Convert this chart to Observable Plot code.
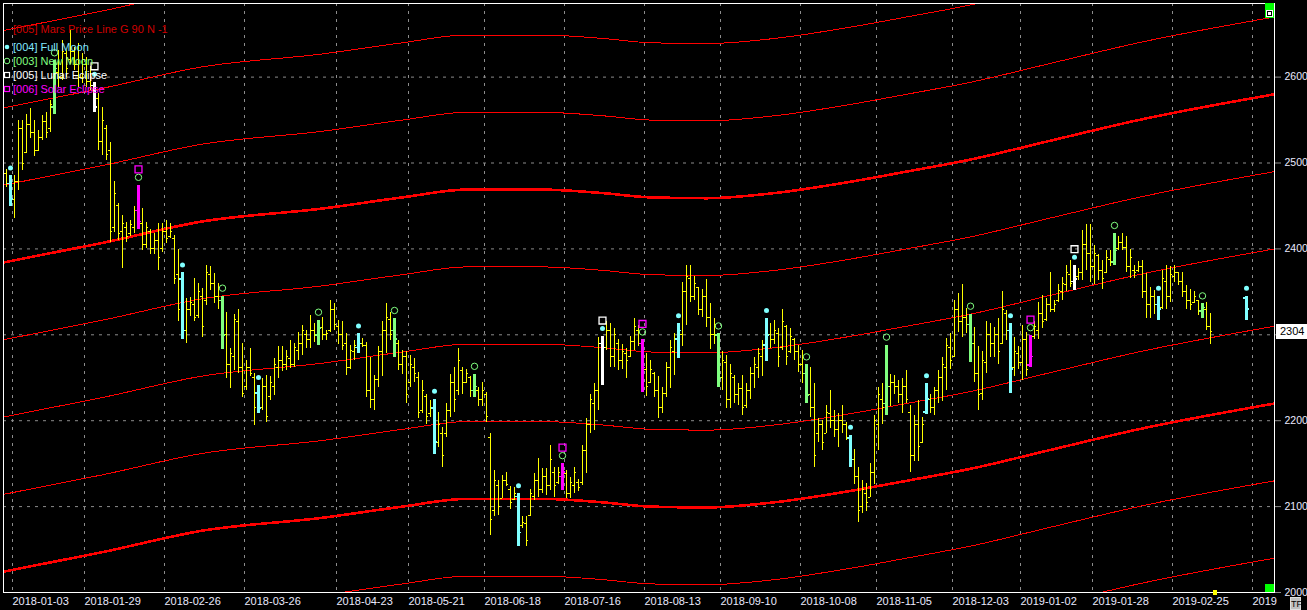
<!DOCTYPE html>
<html><head><meta charset="utf-8">
<script src="https://cdn.jsdelivr.net/npm/d3@7"></script>
<script src="https://cdn.jsdelivr.net/npm/@observablehq/plot@0.6"></script>
<style>
html,body{margin:0;padding:0;background:#000;}
#wrap{position:relative;width:1307px;height:610px;overflow:hidden;background:#000;font-family:'Liberation Sans',Arial,sans-serif;}
.ui{position:absolute;box-sizing:border-box;}
</style></head><body>
<div id="wrap"></div>
<script>
// ---- price bars (bar index 0..302) ----
const high = [2492,2492,2485,2486,2550,2550,2557,2563,2550,2538,
 2555,2559,2573,2619,2631,2643,2631,2654,2635,2639,
 2627,2623,2612,2594,2581,2565,2544,2524,2478,2453,
 2439,2431,2433,2449,2474,2447,2431,2423,2418,2429,
 2429,2433,2429,2416,2399,2372,2342,2344,2365,2360,
 2354,2381,2379,2371,2360,2345,2326,2284,2324,2330,
 2290,2270,2284,2255,2241,2249,2253,2251,2272,2286,
 2286,2282,2293,2290,2303,2311,2305,2323,2313,2317,
 2320,2305,2340,2336,2317,2315,2301,2287,2293,2301,
 2296,2291,2274,2253,2286,2315,2336,2326,2319,2293,
 2282,2280,2276,2272,2256,2247,2231,2223,2225,2210,
 2192,2220,2254,2262,2284,2262,2260,2251,2254,2239,
 2244,2233,2185,2142,2130,2136,2140,2123,2122,2115,
 2088,2088,2120,2138,2156,2144,2144,2171,2146,2146,
 2150,2142,2134,2146,2132,2171,2202,2231,2243,2297,
 2298,2315,2313,2307,2294,2289,2284,2298,2319,2311,
 2294,2278,2270,2256,2251,2239,2268,2293,2301,2313,
 2361,2381,2381,2368,2355,2353,2364,2336,2319,2301,
 2280,2276,2266,2253,2243,2253,2243,2262,2274,2284,
 2293,2319,2313,2317,2307,2329,2311,2307,2296,2288,
 2282,2265,2262,2243,2202,2200,2218,2235,2212,2208,
 2218,2198,2183,2167,2146,2130,2127,2150,2206,2239,
 2243,2288,2254,2253,2247,2249,2258,2218,2206,2224,
 2204,2243,2231,2239,2258,2274,2296,2301,2340,2348,
 2359,2331,2324,2309,2286,2280,2315,2313,2309,2319,
 2350,2328,2313,2297,2286,2311,2303,2299,2315,2338,
 2346,2342,2372,2340,2359,2367,2381,2387,2381,2377,
 2422,2428,2428,2404,2394,2387,2398,2398,2418,2414,
 2418,2414,2399,2381,2385,2387,2371,2355,2352,2345,
 2375,2381,2379,2381,2373,2373,2357,2353,2350,2340,
 2336,2338,2325];
const low = [2468,2472,2449,2435,2468,2491,2511,2528,2507,2513,
 2526,2528,2536,2557,2588,2596,2600,2615,2608,2588,
 2592,2588,2584,2559,2515,2509,2503,2408,2419,2410,
 2377,2408,2414,2418,2423,2398,2400,2394,2394,2375,
 2396,2406,2412,2359,2315,2294,2290,2321,2315,2319,
 2297,2334,2352,2336,2330,2283,2249,2237,2259,2255,
 2227,2235,2251,2194,2208,2212,2198,2224,2229,2249,
 2257,2259,2261,2262,2270,2276,2284,2284,2291,2288,
 2293,2293,2303,2305,2289,2282,2253,2260,2270,2278,
 2285,2227,2214,2212,2239,2251,2278,2293,2274,2258,
 2254,2220,2239,2245,2202,2208,2196,2204,2161,2169,
 2146,2181,2204,2210,2229,2231,2243,2227,2227,2216,
 2216,2198,2066,2088,2090,2109,2123,2097,2107,2053,
 2074,2053,2088,2107,2111,2115,2113,2119,2111,2126,
 2119,2109,2109,2115,2117,2125,2138,2185,2189,2212,
 2241,2282,2262,2262,2258,2260,2249,2274,2282,2286,
 2233,2228,2243,2227,2202,2208,2227,2237,2253,2272,
 2286,2311,2338,2340,2322,2320,2309,2283,2289,2239,
 2235,2214,2214,2220,2218,2206,2214,2225,2237,2249,
 2251,2269,2284,2289,2262,2282,2264,2278,2270,2256,
 2243,2220,2204,2146,2175,2165,2185,2191,2181,2169,
 2185,2177,2146,2126,2082,2092,2094,2111,2126,2165,
 2196,2206,2216,2231,2220,2208,2220,2140,2152,2152,
 2173,2207,2208,2206,2220,2222,2235,2260,2274,2303,
 2297,2302,2268,2245,2212,2223,2255,2274,2274,2266,
 2289,2293,2232,2251,2260,2247,2251,2262,2295,2295,
 2307,2315,2326,2326,2338,2340,2350,2355,2352,2363,
 2363,2375,2361,2359,2363,2353,2371,2379,2381,2398,
 2398,2373,2365,2365,2373,2342,2319,2319,2324,2317,
 2330,2330,2338,2361,2357,2344,2330,2328,2336,2322,
 2319,2305,2289];
const open = [2470,2488,2476,2458,2478,2540,2512,2545,2535,2515,
 2530,2548,2540,2565,2605,2600,2628,2620,2630,2615,
 2600,2615,2595,2590,2575,2525,2540,2515,2425,2450,
 2420,2425,2418,2425,2445,2430,2405,2420,2400,2410,
 2400,2420,2415,2412,2370,2365,2305,2330,2335,2322,
 2345,2340,2370,2360,2345,2340,2300,2265,2275,2315,
 2262,2240,2262,2250,2232,2215,2240,2228,2240,2262,
 2270,2265,2272,2265,2282,2290,2300,2295,2305,2300,
 2308,2300,2305,2330,2310,2300,2290,2262,2280,2285,
 2290,2288,2235,2225,2248,2280,2305,2318,2305,2290,
 2265,2275,2245,2262,2250,2212,2228,2208,2215,2175,
 2185,2185,2212,2245,2235,2258,2245,2250,2235,2235,
 2225,2230,2180,2095,2125,2110,2130,2120,2108,2112,
 2078,2080,2090,2112,2130,2120,2135,2125,2140,2128,
 2135,2138,2115,2125,2128,2128,2165,2195,2220,2235,
 2290,2285,2305,2275,2290,2270,2278,2275,2292,2305,
 2290,2260,2245,2255,2235,2215,2232,2262,2280,2295,
 2300,2350,2365,2345,2355,2330,2345,2320,2300,2300,
 2250,2268,2225,2250,2230,2238,2218,2235,2255,2262,
 2275,2288,2300,2295,2302,2285,2310,2280,2295,2280,
 2265,2255,2230,2215,2185,2195,2185,2208,2200,2190,
 2200,2195,2180,2155,2135,2100,2115,2111,2140,2195,
 2225,2220,2240,2245,2240,2230,2240,2210,2160,2195,
 2175,2210,2225,2215,2235,2250,2262,2285,2275,2330,
 2315,2320,2312,2290,2255,2232,2268,2300,2290,2300,
 2290,2325,2305,2262,2278,2268,2295,2265,2298,2305,
 2325,2318,2335,2330,2340,2350,2358,2370,2362,2368,
 2372,2405,2395,2380,2392,2375,2372,2388,2385,2400,
 2408,2402,2380,2375,2375,2380,2350,2335,2345,2335,
 2332,2362,2345,2368,2372,2362,2350,2340,2338,2340,
 2328,2330,2310];
const close = [2488,2476,2458,2478,2540,2500,2545,2535,2515,2530,
 2548,2535,2568,2610,2600,2630,2610,2630,2615,2600,
 2620,2595,2590,2565,2525,2550,2510,2420,2465,2418,
 2430,2415,2428,2445,2432,2405,2425,2400,2410,2390,
 2420,2412,2420,2365,2330,2305,2330,2338,2320,2350,
 2310,2372,2360,2345,2340,2300,2265,2278,2318,2262,
 2232,2262,2255,2215,2215,2240,2205,2245,2265,2270,
 2265,2275,2265,2285,2290,2305,2295,2305,2300,2308,
 2300,2302,2330,2312,2300,2288,2262,2282,2288,2290,
 2288,2235,2225,2248,2280,2305,2320,2300,2295,2265,
 2275,2230,2265,2255,2210,2235,2205,2215,2175,2195,
 2160,2212,2245,2225,2270,2245,2255,2235,2240,2225,
 2235,2205,2085,2130,2100,2130,2126,2105,2115,2070,
 2082,2060,2115,2130,2120,2135,2125,2155,2125,2140,
 2140,2115,2128,2140,2122,2165,2195,2225,2235,2290,
 2285,2305,2275,2300,2270,2280,2270,2292,2310,2290,
 2262,2240,2260,2235,2215,2232,2262,2285,2295,2305,
 2350,2368,2345,2360,2330,2345,2320,2300,2312,2250,
 2270,2225,2255,2230,2238,2215,2235,2255,2265,2278,
 2288,2300,2295,2305,2275,2315,2275,2298,2280,2265,
 2255,2230,2215,2160,2195,2175,2210,2200,2190,2200,
 2195,2180,2155,2135,2095,2120,2105,2140,2200,2230,
 2215,2240,2245,2240,2230,2240,2225,2160,2195,2170,
 2195,2225,2215,2235,2250,2265,2288,2270,2330,2315,
 2320,2312,2290,2255,2230,2270,2300,2290,2300,2280,
 2330,2305,2260,2280,2268,2295,2260,2275,2310,2325,
 2315,2335,2330,2335,2352,2360,2372,2360,2365,2372,
 2405,2395,2380,2395,2375,2365,2390,2385,2398,2408,
 2402,2380,2390,2372,2380,2350,2335,2345,2335,2330,
 2365,2345,2370,2372,2362,2350,2340,2335,2345,2328,
 2332,2310,2304];

// projected event bar beyond the last price bar
const futureIdx = [311];
const futureHigh = [2345];
const futureLow = [2317];
const futureOpen = [2343];
const futureClose = [2330];

// ---- lunar events (bar index) ----
const fullMoonIdx = [2, 45, 64, 89, 108, 129, 169, 191, 212, 231, 252, 289, 311];
const newMoonIdx = [13, 55, 79, 98, 118, 179, 201, 221, 242, 278, 300];
const lunarEclipseIdx = [23, 150, 268];
const solarEclipseIdx = [34, 140, 160, 257];

// ---- Mars price line (base curve, Gann 90 step) ----
const marsIdx = [0, 25, 50, 80, 100, 116, 135, 150, 162, 176, 193, 213, 226, 242, 262, 284, 318];
const marsBase = [2024, 2047, 2072, 2087, 2100, 2109, 2109, 2105, 2100, 2099, 2105, 2119, 2130, 2144, 2166, 2190, 2220];
const marsStep = 90;
const marsLevels = [-2, -1, 0, 1, 2, 3, 4, 5, 6, 7];

// ---- axes ----
const xTickIdx = [3, 21, 41, 61, 84, 102, 121, 141, 161, 180, 200, 219, 238, 255, 273, 293, 313];
const xTickLabels = ["2018-01-03","2018-01-29","2018-02-26","2018-03-26","2018-04-23","2018-05-21","2018-06-18","2018-07-16","2018-08-13","2018-09-10","2018-10-08","2018-11-05","2018-12-03","2019-01-02","2019-01-28","2019-02-25","2019"];
const yTicks = [2000, 2100, 2200, 2300, 2400, 2500, 2600];
const lastPrice = 2304;

// ---- build tables ----
const n = Math.min(high.length, low.length, open.length, close.length);
const bars = [];
for (let i = 0; i < n; i++) bars.push({i, high: high[i], low: low[i], open: open[i], close: close[i]});
futureIdx.forEach((i, j) => bars.push({i, high: futureHigh[j], low: futureLow[j], open: futureOpen[j], close: futureClose[j]}));

const typeOf = new Map();
fullMoonIdx.forEach(i => typeOf.set(i, "full"));
newMoonIdx.forEach(i => typeOf.set(i, "new"));
lunarEclipseIdx.forEach(i => typeOf.set(i, "lunar"));
solarEclipseIdx.forEach(i => typeOf.set(i, "solar"));
const evColor = {full: "#80ffff", new: "#80ff80", lunar: "#ffffff", solar: "#ff00ff"};

const plain = bars.filter(d => !typeOf.has(d.i));
const events = bars.filter(d => typeOf.has(d.i)).map(d => ({...d, type: typeOf.get(d.i), color: evColor[typeOf.get(d.i)]}));
const dotsData = events.filter(d => d.type === "full" || d.type === "lunar");
const circData = events.filter(d => d.type === "new" || d.type === "solar");
const sqData = events.filter(d => d.type === "lunar" || d.type === "solar");

const mars = marsLevels.flatMap(k => marsIdx.map((x, j) => ({x, y: marsBase[j] + marsStep * k, k})));
const labelMap = new Map(xTickIdx.map((t, j) => [t - 0.5, xTickLabels[j]]));
const xTickVals = xTickIdx.map(t => t - 0.5);

const grid = {stroke: "#8c8c8c", strokeOpacity: 1, strokeDasharray: "3,5", strokeWidth: 1};
const YEL = "#ffff00";

const chart = Plot.plot({
  width: 1307, height: 610,
  marginLeft: 3, marginRight: 33, marginTop: 3, marginBottom: 18,
  style: {background: "#000", color: "#eaeaff", fontFamily: "'Liberation Sans', Arial, sans-serif", fontSize: "11px", overflow: "visible"},
  x: {domain: [0.25, 318]},
  y: {domain: [2000, 2685.7]},
  marks: [
    Plot.gridX(xTickVals, grid),
    Plot.gridY(yTicks, grid),
    Plot.line(mars.filter(d => d.k % 4 !== 0), {x: "x", y: "y", z: "k", stroke: "#ff0000", strokeWidth: 1, curve: "monotone-x", clip: true, shapeRendering: "crispEdges"}),
    Plot.line(mars.filter(d => d.k % 4 === 0), {x: "x", y: "y", z: "k", stroke: "#ff0000", strokeWidth: 2.6, curve: "monotone-x", clip: true, shapeRendering: "crispEdges"}),
    Plot.ruleX(plain, {x: "i", y1: "low", y2: "high", stroke: YEL, strokeWidth: 1, shapeRendering: "crispEdges", clip: true}),
    Plot.ruleY(plain, {y: "open", x1: d => d.i - 0.55, x2: "i", stroke: YEL, strokeWidth: 1, shapeRendering: "crispEdges", clip: true}),
    Plot.ruleY(plain, {y: "close", x1: "i", x2: d => d.i + 0.55, stroke: YEL, strokeWidth: 1, shapeRendering: "crispEdges", clip: true}),
    Plot.ruleX(events, {x: "i", y1: "low", y2: "high", stroke: "color", strokeWidth: 3, shapeRendering: "crispEdges"}),
    Plot.ruleY(events, {y: "open", x1: d => d.i - 0.65, x2: "i", stroke: "color", strokeWidth: 1.5, shapeRendering: "crispEdges"}),
    Plot.ruleY(events, {y: "close", x1: "i", x2: d => d.i + 0.65, stroke: "color", strokeWidth: 1.5, shapeRendering: "crispEdges"}),
    Plot.dot(dotsData, {x: "i", y: "high", dy: -8, r: 2.5, fill: "#80ffff", stroke: null}),
    Plot.dot(circData, {x: "i", y: "high", dy: -8, r: 3.2, fill: "none", stroke: "#80ff80", strokeWidth: 1}),
    Plot.dot(sqData, {x: "i", y: "high", dy: -16, r: 3.9, symbol: "square", fill: "none", stroke: "color", strokeWidth: 1.3}),
    Plot.frame({stroke: "#ffffff"}),
    Plot.axisX(xTickVals, {anchor: "bottom", tickSize: 0, tickPadding: 5, tickFormat: d => labelMap.get(d), textAnchor: "start", fill: "#eaeaff", label: null, fontSize: 11}),
    // the last-price box hides the tick label it covers, as in the original
    Plot.axisY(yTicks, {anchor: "right", tickSize: 6, tickPadding: 4, tickFormat: d => (Math.abs(d - lastPrice) < 12 ? "" : String(d)), stroke: "#8c8c8c", fill: "#eaeaff", label: null, fontSize: 10.5})
  ]
});
const wrap = document.getElementById("wrap");
wrap.appendChild(chart);

// ---- legend overlay ----
const leg = d3.select(wrap).append("svg").attr("width", 330).attr("height", 100)
  .style("position", "absolute").style("left", "0px").style("top", "0px");
const legItems = [
  {y: 33, text: "[005] Mars Price Line G 90 N -1", color: "#d00000", mk: null},
  {y: 51, text: "[004] Full Moon", color: "#80e8ff", mk: "dot"},
  {y: 65, text: "[003] New Moon", color: "#80ff80", mk: "circle"},
  {y: 79, text: "[005] Lunar Eclipse", color: "#ffffff", mk: "square"},
  {y: 93, text: "[006] Solar Eclipse", color: "#ff00ff", mk: "square"}
];
legItems.forEach(it => {
  leg.append("text").attr("x", 13).attr("y", it.y).attr("fill", it.color)
    .style("font", "11px 'Liberation Sans', Arial, sans-serif").text(it.text);
  const cy = it.y - 4;
  if (it.mk === "dot") leg.append("circle").attr("cx", 7).attr("cy", cy).attr("r", 2.3).attr("fill", "#80ffff");
  if (it.mk === "circle") leg.append("circle").attr("cx", 7).attr("cy", cy).attr("r", 2.8).attr("fill", "none").attr("stroke", "#80ff80");
  if (it.mk === "square") leg.append("rect").attr("x", 4.5).attr("y", cy - 2.5).attr("width", 5).attr("height", 5).attr("fill", "none").attr("stroke", it.color).attr("stroke-width", 1.2);
});

// ---- last price label (positioned by the plot's y scale) ----
const yPix = chart.scale("y").apply(lastPrice);
const pl = document.createElement("div");
pl.className = "ui";
pl.style.cssText = `left:1276px;top:${yPix - 7}px;width:31px;height:15px;background:#fff;color:#000;font:11px 'Liberation Sans',Arial,sans-serif;line-height:15px;padding-left:4px;`;
pl.textContent = String(lastPrice);
wrap.appendChild(pl);

// ---- decorative UI elements of the charting tool ----
function box(css, html) { const d = document.createElement("div"); d.className = "ui"; d.style.cssText = css; if (html) d.innerHTML = html; wrap.appendChild(d); return d; }
box("left:1265px;top:3px;width:9px;height:15px;background:#00ff00;");
box("left:1266px;top:10px;width:7px;height:7px;background:#000;border:1px solid #fff;", "<div style='position:absolute;left:1px;top:1px;width:3px;height:3px;background:#fff'></div>");
box("left:1265px;top:584px;width:9px;height:8px;background:#00ff00;");
box("left:1213px;top:590px;width:4px;height:5px;background:#ffff00;");
box("left:1290px;top:597px;width:11px;height:13px;background:#c0c0c0;border:1px solid #e0e0e0;color:#000;font:9px 'Liberation Sans',Arial,sans-serif;line-height:12px;text-align:center;", "TF");
</script>
</body></html>
